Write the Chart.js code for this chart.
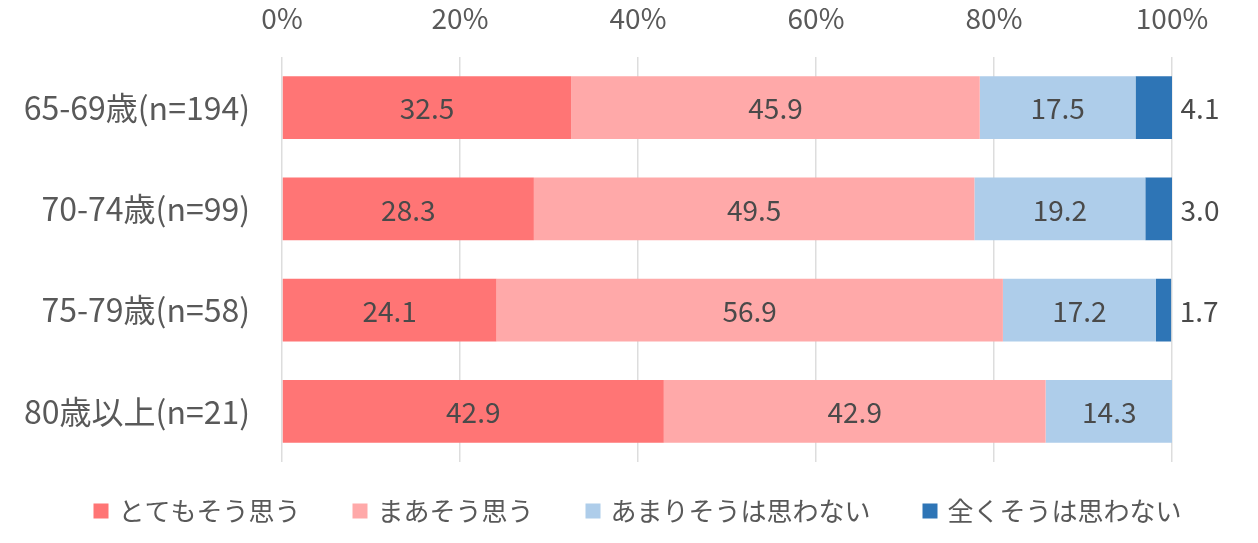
<!DOCTYPE html>
<html><head><meta charset="utf-8">
<script src="https://cdn.jsdelivr.net/npm/chart.js@4/dist/chart.umd.min.js"></script>
<style>html,body{margin:0;padding:0;background:#fff}#wrap{width:1258px;height:543px}</style>
</head><body><div id="wrap"><canvas id="c"></canvas></div>
<script>
const categories = ["65-69歳(n=194)", "70-74歳(n=99)", "75-79歳(n=58)", "80歳以上(n=21)"];
const seriesNames = ["とてもそう思う", "まあそう思う", "あまりそうは思わない", "全くそうは思わない"];
const s1 = [32.5, 28.3, 24.1, 42.9];
const s2 = [45.9, 49.5, 56.9, 42.9];
const s3 = [17.5, 19.2, 17.2, 14.3];
const s4 = [4.1, 3.0, 1.7, 0];
const colors = ["#FF7575", "#FFA9A9", "#AECDEA", "#2E75B6"];
const xTicks = [0, 20, 40, 60, 80, 100];
const FONT = "'Noto Sans CJK JP', 'Noto Sans', sans-serif";
const TEXT = "#595959";

const labelPlugin = {
  id: 'barLabels',
  afterDatasetsDraw(chart) {
    const ctx = chart.ctx;
    ctx.save();
    ctx.font = "28px " + FONT;
    ctx.fillStyle = "#4A4A4A";
    ctx.textBaseline = "middle";
    ctx.textAlign = "center";
    chart.data.datasets.forEach((ds, di) => {
      const meta = chart.getDatasetMeta(di);
      meta.data.forEach((el, i) => {
        const v = ds.data[i];
        if (!v) return;
        const txt = v.toFixed(1);
        const x = di === chart.data.datasets.length - 1 ? Math.max(el.x, el.base) + 28 : (el.x + el.base) / 2;
        ctx.fillText(txt, x, el.y + 1);
      });
    });
    ctx.restore();
  }
};

const legendPlugin = {
  id: 'bottomLegend',
  afterDraw(chart) {
    const ctx = chart.ctx;
    ctx.save();
    ctx.font = "26px " + FONT;
    ctx.textBaseline = "middle";
    ctx.textAlign = "left";
    const box = 15, gapText = 10, gapItem = 52, cy = 511;
    const items = chart.data.datasets.map(d => ({ text: d.label, color: d.backgroundColor, w: box + gapText + ctx.measureText(d.label).width }));
    const total = items.reduce((a, it) => a + it.w, 0) + gapItem * (items.length - 1);
    let x = 637.5 - total / 2;
    items.forEach(it => {
      ctx.fillStyle = it.color;
      ctx.fillRect(x, cy - box / 2, box, box);
      ctx.fillStyle = TEXT;
      ctx.fillText(it.text, x + box + gapText, cy);
      x += it.w + gapItem;
    });
    ctx.restore();
  }
};

new Chart(document.getElementById('c'), {
  type: 'bar',
  data: {
    labels: categories,
    datasets: [s1, s2, s3, s4].map((d, i) => ({
      label: seriesNames[i], data: d, backgroundColor: colors[i],
      borderWidth: 0, barPercentage: 0.622, categoryPercentage: 1
    }))
  },
  options: {
    indexAxis: 'y',
    responsive: true, maintainAspectRatio: false, animation: false,
    layout: { padding: { top: 0, right: 86, left: 0, bottom: 81 } },
    scales: {
      x: {
        position: 'top', stacked: true, min: 0, max: 100,
        afterBuildTicks(axis) { axis.ticks = xTicks.map(v => ({ value: v })); },
        afterFit(s) { s.height = 57; },
        ticks: { callback: v => v + '%', color: TEXT, font: { family: FONT, size: 28 }, padding: 22 },
        grid: { color: '#DDDDDD', lineWidth: 1.5, drawTicks: false },
        border: { display: false }
      },
      y: {
        stacked: true,
        afterFit(s) { s.width = 282; },
        ticks: { color: TEXT, font: { family: FONT, size: 32 }, padding: 32 },
        grid: { display: false, drawTicks: false },
        border: { display: false }
      }
    },
    plugins: {
      legend: { display: false },
      tooltip: { enabled: false }
    }
  },
  plugins: [labelPlugin, legendPlugin]
});
</script></body></html>
